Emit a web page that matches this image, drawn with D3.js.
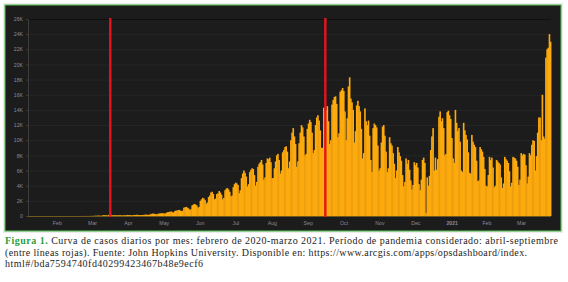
<!DOCTYPE html>
<html><head><meta charset="utf-8">
<script src="https://cdn.jsdelivr.net/npm/d3@7"></script>
<style>html,body{margin:0;padding:0;background:#fff;overflow:hidden}</style>
</head><body><svg id="c" width="568" height="282"></svg>
<script>
// ---- DATA (daily new cases, JHU) ----
const firstDay = "2020-01-22";
const jan2020 = [0,0,0,0,0,0,0,0,0,0];
const feb2020 = [0,0,0,0,0,0,0,0,0,0,0,0,0,0,0,0,0,0,0,0,0,0,0,0,0,0,0,0,0];
const mar2020 = [0,0,1,0,1,6,1,2,5,2,12,3,3,11,11,9,18,31,31,31,67,35,41,36,86,115,87,101,55,146,88];
const apr2020 = [167,78,103,90,104,79,90,89,98,81,67,102,86,97,143,110,133,76,90,100,143,111,171,130,111,126,105,136,146,173];
const may2020 = [180,160,140,200,260,300,320,280,240,210,300,330,350,360,380,340,300,420,500,520,560,600,520,430,620,700,720,760,800,720,640];
const jun2020 = [700,1100,1150,1200,1100,1000,800,900,1400,1500,1600,1500,1400,1100,1200,2000,2200,2400,2300,2100,1600,1800,2500,2700,3100,3200,2900,2200,2300,2900];
const jul2020 = [3000,3300,3100,2800,2200,2400,3400,3600,3700,3500,3200,2600,2700,3800,4200,4400,4300,4100,3000,3400,5000,5600,6000,5700,5200,3900,4200,5800,6100,6300,6200];
const aug2020 = [5400,4000,4500,6500,6900,7100,7400,6800,4800,5100,7000,7600,7500,7700,7100,5000,5000,6300,7200,8000,8200,7400,5600,6000,8400,8700,9100,9200,8500,6300,7200];
const sep2020 = [10000,11000,11600,10500,9500,6500,7200,9600,11000,12000,11700,10500,8000,8200,11500,12200,12700,12400,11000,8300,8700,12000,13000,13300,12600,11300,9000,9000,14300,13800];
const oct2020 = [14000,14500,12500,9500,10000,14700,15300,15700,15800,14800,10400,10900,16400,16600,16900,16500,13800,10000,12900,17100,18300,15500,15000,14000,9700,11200,14600,15200,14500,13800,11500];
const nov2020 = [7600,8300,14200,12500,12000,12600,10600,7400,5800,11600,12200,12000,11700,9300,6000,6300,9700,11800,12000,10600,8500,5800,6300,10400,9600,9300,8300,6900,5000,6000];
const dec2020 = [9100,8400,7900,7300,5400,3900,4500,7600,6900,7400,6100,4700,3500,4100,7100,6700,7000,6400,4200,3400,4800,7400,7700,7000,400,5100,4000,5300,8700,10500,11600];
const jan2021 = [6000,7700,6100,7500,13100,13800,12500,12900,11600,8000,8200,13700,13900,13300,12800,10300,7600,7000,14000,12300,11200,11600,9800,6000,5800,12300,11300,10700,10100,8400,5700];
const feb2021 = [5600,10700,9800,9400,9100,7300,4600,4700,9100,8800,8500,7800,6200,4000,3900,5400,7800,7400,7700,6400,3800,4000,7400,7200,7000,6800,5100,3700];
const mar2021 = [4300,7800,7500,7300,7000,5900,3900,4400,7800,7700,7600,7300,6500,4100,4800,8300,8000,8200,8100,6700,4300,5200,8300,8000,9400,10000,9900,6000,7900,11000,13000];
const apr2021 = [13000,10000,16000,10500,10200,20900,22000,22200,24000,23000];

const monthLabels = ["Feb","Mar","Apr","May","Jun","Jul","Aug","Sep","Oct","Nov","Dec","2021","Feb","Mar"];
const monthStarts = ["2020-02-01","2020-03-01","2020-04-01","2020-05-01","2020-06-01","2020-07-01","2020-08-01","2020-09-01","2020-10-01","2020-11-01","2020-12-01","2021-01-01","2021-02-01","2021-03-01","2021-04-01"];
const yTicks = [0,2000,4000,6000,8000,10000,12000,14000,16000,18000,20000,22000,24000,26000];
const periodBounds = ["2020-04-01","2020-10-01"];

const captionLabel = "Figura 1.";
const captionLines = [
  " Curva de casos diarios por mes: febrero de 2020-marzo 2021. Período de pandemia considerado: abril-septiembre",
  "(entre líneas rojas). Fuente: John Hopkins University. Disponible en:  https://www.arcgis.com/apps/opsdashboard/index.",
  "html#/bda7594740fd40299423467b48e9ecf6"
];

// ---- BUILD ----
const parse = d3.utcParse("%Y-%m-%d");
const allValues = [].concat(jan2020,feb2020,mar2020,apr2020,may2020,jun2020,jul2020,aug2020,sep2020,oct2020,nov2020,dec2020,jan2021,feb2021,mar2021,apr2021);
const d0 = parse(firstDay);
const data = allValues.map((v,i)=>({date:d3.utcDay.offset(d0,i), value:v}));
const lastEnd = d3.utcDay.offset(d0, allValues.length);

const svg = d3.select("#c");
const plot = {left:28,right:551,top:19,bottom:216};

// panel
svg.append("rect").attr("x",3.5).attr("y",3.5).attr("width",559).attr("height",229)
  .attr("fill","none").attr("stroke","#d8d8d8").attr("stroke-width",1).attr("stroke-dasharray","1,1");
svg.append("rect").attr("x",5).attr("y",5).attr("width",556).attr("height",226)
  .attr("fill","#1c1c1c").attr("stroke","#4fae4a").attr("stroke-width",1.2);

const x = d3.scaleUtc().domain([d0,lastEnd]).range([plot.left,plot.right]);
const y = d3.scaleLinear().domain([0,26000]).range([plot.bottom,plot.top]);

// gridlines
svg.append("g").selectAll("line").data(yTicks).join("line")
  .attr("x1",plot.left).attr("x2",plot.right)
  .attr("y1",d=>y(d)+0.5).attr("y2",d=>y(d)+0.5)
  .attr("stroke",(d,i)=> i===yTicks.length-1 ? "#0c0c0c" : "#282828").attr("stroke-width",0.8);

// y axis
const yAxis = svg.append("g").attr("transform",`translate(${plot.left},0)`)
  .call(d3.axisLeft(y).tickValues(yTicks).tickSize(2).tickPadding(3)
    .tickFormat(d=> d===0 ? "0" : (d/1000)+"K"));
yAxis.select(".domain").attr("stroke","#3c3c3c");
yAxis.selectAll(".tick line").attr("stroke","#3c3c3c");
yAxis.selectAll("text").attr("fill","#8a8a98").style("font-family","Liberation Sans, Arial").style("font-size","5.2px");

// bars (slight overlap so adjacent days form a solid area)
svg.append("g").selectAll("rect").data(data).join("rect")
  .attr("x",d=>x(d.date))
  .attr("width",d=>x(d3.utcDay.offset(d.date,1))-x(d.date)+0.45)
  .attr("y",d=>y(d.value))
  .attr("height",d=>y(0)-y(d.value))
  .attr("fill","#fdaa0e");

// baseline
svg.append("line").attr("x1",plot.left).attr("x2",plot.right)
  .attr("y1",y(0)+0.5).attr("y2",y(0)+0.5).attr("stroke","#6e5a1c").attr("stroke-width",1);

// red period lines
svg.append("g").selectAll("line").data(periodBounds).join("line")
  .attr("x1",d=>x(parse(d))).attr("x2",d=>x(parse(d)))
  .attr("y1",18).attr("y2",y(0)+1)
  .attr("stroke","#e8131c").attr("stroke-width",2.4);

// x axis: labels centred in each month
const mids = monthLabels.map((m,i)=>{
  const a=parse(monthStarts[i]), b=parse(monthStarts[i+1]);
  return new Date((a.getTime()+Math.min(b.getTime(),lastEnd.getTime()))/2);
});
const xAxis = svg.append("g").attr("transform",`translate(0,${plot.bottom})`)
  .call(d3.axisBottom(x).tickValues(mids).tickSize(0).tickPadding(5).tickFormat((d,i)=>monthLabels[i]));
xAxis.select(".domain").remove();
xAxis.selectAll("text").attr("fill","#8a8a98").style("font-family","Liberation Sans, Arial").style("font-size","5.2px")
  .style("font-weight",(d,i)=>monthLabels[i]==="2021"?"bold":"normal");

// caption
const capY=[244,255.5,267], capLen=[553,522,198];
captionLines.forEach((t,i)=>{
  const tx = svg.append("text").attr("x",5).attr("y",capY[i])
    .attr("textLength",capLen[i]).attr("lengthAdjust","spacing")
    .style("font-family","Liberation Serif, Times New Roman, serif").style("font-size","10px").attr("fill","#1e1e1e");
  if(i===0){
    tx.append("tspan").attr("fill","#2f9e3c").style("font-weight","bold").text(captionLabel);
  }
  tx.append("tspan").text(t);
});
</script></body></html>
